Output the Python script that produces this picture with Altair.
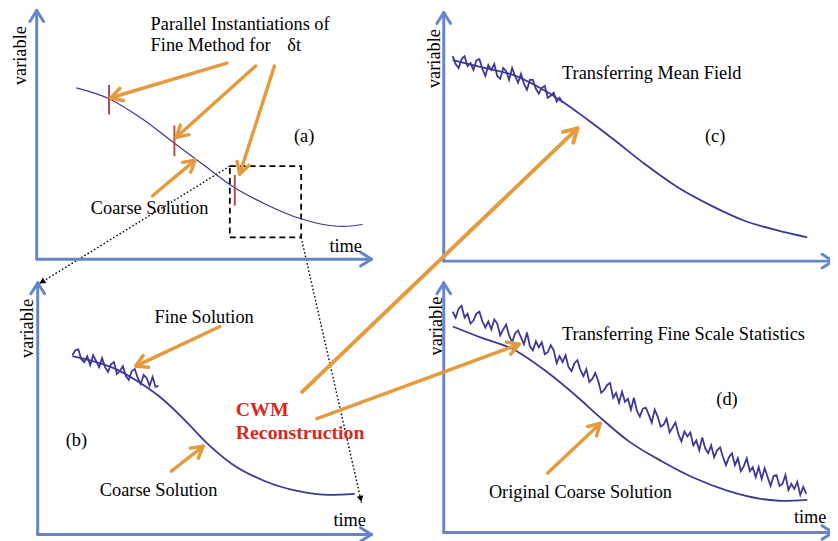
import math
import altair as alt
import pandas as pd

# ---------------- data (diagram coordinates) ----------------
FONT = "Liberation Serif"
AXIS_C = "#6684C9"
CURVE_C = "#3B3896"
ORANGE = "#E49A3D"
TICK_C = "#B4504C"
RED = "#D8291C"

# smooth coarse curves
a_curve_x = [77, 110, 143, 176, 207, 237, 267, 303, 333, 347, 366]
a_curve_y = [86, 97, 117, 142, 165, 187, 203, 218, 225, 226, 224]
b_curve_x = [73, 90, 117, 140, 160, 185, 207, 233, 267, 300, 333, 358]
b_curve_y = [357, 361, 370, 383, 397, 420, 443, 465, 483, 493, 497, 496]
c_curve_x = [457, 490, 518, 545, 568, 593, 618, 651, 685, 718, 751, 785, 815]
c_curve_y = [58, 66, 73, 86, 100, 118, 137, 163, 187, 205, 220, 230, 237]
d_curve_x = [457, 485, 518, 551, 585, 605, 635, 668, 701, 735, 768, 791, 815]
d_curve_y = [327, 338, 350, 372, 400, 418, 443, 463, 480, 493, 501, 503, 502]

# fine (noisy) solutions
b_noise_x = [73, 76, 79, 82, 85, 88, 91, 94, 97, 100, 103, 106, 109, 112, 115,
             118, 121, 124, 127, 130, 133, 136, 139, 142, 145, 148, 151, 154, 157, 160]
b_noise_y = [356, 351, 350, 360, 363, 357, 366, 356, 362, 368, 359, 368, 373, 365, 363,
             375, 372, 367, 377, 381, 372, 370, 379, 385, 376, 379, 387, 378, 388, 387]
c_noise_x = [457, 460, 463, 466, 469, 472, 475, 478, 481, 484, 487, 490, 493, 496, 499,
             502, 505, 508, 511, 514, 517, 520, 523, 526, 529, 532, 535, 538, 541, 544,
             547, 550, 553, 556, 559, 562, 565, 568]
c_noise_y = [54, 62, 66, 57, 54, 64, 61, 68, 58, 57, 67, 74, 63, 68, 62,
             74, 77, 66, 69, 78, 66, 74, 81, 72, 82, 88, 78, 78, 87, 92,
             86, 84, 96, 94, 91, 100, 96, 101]
d_noise_x = [457, 460, 463, 466, 469, 472, 475, 478, 481, 484, 487, 490, 493, 496, 499,
             502, 505, 508, 511, 514, 517, 520, 523, 526, 529, 532, 535, 538, 541, 544,
             547, 550, 553, 556, 559, 562, 565, 568, 571, 574, 577, 580, 583, 586, 589,
             592, 595, 598, 601, 604, 607, 610, 613, 616, 619, 622, 625, 628, 631, 634,
             637, 640, 643, 646, 649, 652, 655, 658, 661, 664, 667, 670, 673, 676, 679,
             682, 685, 688, 691, 694, 697, 700, 703, 706, 709, 712, 715, 718, 721, 724,
             727, 730, 733, 736, 739, 742, 745, 748, 751, 754, 757, 760, 763, 766, 769,
             772, 775, 778, 781, 784, 787, 790, 793, 796, 799, 802, 805, 808, 811, 814]
d_noise_y = [312, 318, 309, 306, 318, 314, 324, 321, 314, 312, 322, 328, 322, 330, 320,
             324, 336, 330, 325, 336, 343, 334, 331, 338, 345, 333, 347, 351, 342, 348,
             343, 355, 353, 346, 351, 364, 357, 363, 356, 368, 372, 364, 361, 371, 377,
             370, 383, 380, 374, 382, 394, 391, 386, 384, 399, 394, 404, 393, 403, 400,
             411, 399, 412, 418, 410, 409, 416, 424, 411, 418, 428, 426, 420, 434, 429,
             424, 436, 443, 433, 438, 434, 447, 442, 452, 439, 450, 455, 447, 459, 452,
             449, 459, 467, 459, 455, 467, 460, 473, 468, 460, 473, 469, 479, 469, 481,
             470, 479, 488, 478, 477, 488, 486, 477, 492, 486, 491, 484, 497, 489, 496]

# red marks on the coarse curve of panel (a)
tick_x = [110, 176, 237]
tick_y1 = [83, 124, 174]
tick_y2 = [113, 155, 205]

# dashed zoom box
box_x = [232, 304]
box_y = [165, 237]

# axes: origin x, origin y, top of y-arrow, end of x-arrow
axis_x0 = [37, 38, 448, 448]
axis_y0 = [259, 537, 261, 535]
axis_top = [8, 283, 10, 283]
axis_right = [375, 375, 841, 841]

# orange arrows (start -> tip)
arrow_x1 = [229, 258, 277, 154, 222, 173, 320, 553]
arrow_y1 = [61, 64, 64, 195, 327, 473, 420, 475]
arrow_x2 = [112, 178, 242, 197, 137, 205, 524, 606]
arrow_y2 = [96, 136, 173, 159, 367, 448, 345, 425]
big_arrow = [305, 393, 583, 127]

# dotted arrows (start -> tip)
dot_x1 = [232, 304]
dot_y1 = [165, 237]
dot_x2 = [39, 365]
dot_y2 = [284, 505]

# texts
c_text = ["Coarse Solution", "(a)", "time", "Transferring Mean Field", "(c)",
          "Fine Solution", "(b)", "Coarse Solution", "time",
          "Transferring Fine Scale Statistics", "(d)", "Original Coarse Solution", "time"]
c_text_x = [151, 307, 349, 658, 722, 206, 77, 160, 353, 690, 734, 586, 818]
c_text_y = [213, 141, 252, 77, 141, 323, 448, 498, 528, 341, 406, 500, 525]
l_text = ["Parallel Instantiations of", "Fine Method for", "δt"]
l_text_x = [152, 152, 290]
l_text_y = [28, 49, 49]
v_text_x = [26.5, 33, 444, 446]
v_text_y = [53.5, 329, 56.5, 326.5]
red_text = ["CWM", "Reconstruction"]
red_text_x = [238, 238]
red_text_y = [417, 441]

# ---------------- build tables ----------------
def arrow_rows(x1, y1, x2, y2, kind, L, ang):
    rows = [dict(x=x1, y=y1, x2=x2, y2=y2, kind=kind)]
    dx, dy = x2 - x1, y2 - y1
    n = math.hypot(dx, dy)
    ux, uy = dx / n, dy / n
    for s in (1, -1):
        a = math.radians(ang) * s
        rx = ux * math.cos(a) - uy * math.sin(a)
        ry = ux * math.sin(a) + uy * math.cos(a)
        rows.append(dict(x=x2, y=y2, x2=x2 - L * rx, y2=y2 - L * ry, kind=kind))
    return rows

seg = []
for i in range(4):
    seg += arrow_rows(axis_x0[i], axis_y0[i], axis_x0[i], axis_top[i], "axis", 13, 32)
    seg += arrow_rows(axis_x0[i], axis_y0[i], axis_right[i], axis_y0[i], "axis", 13, 32)
for i in range(len(arrow_x1)):
    seg += arrow_rows(arrow_x1[i], arrow_y1[i], arrow_x2[i], arrow_y2[i], "orange", 13, 30)
seg += arrow_rows(*big_arrow, "orange_big", 15, 30)
for i in range(3):
    seg.append(dict(x=tick_x[i], y=tick_y1[i], x2=tick_x[i], y2=tick_y2[i], kind="tick"))
for i in range(2):
    seg.append(dict(x=dot_x1[i], y=dot_y1[i], x2=dot_x2[i], y2=dot_y2[i], kind="dot"))
seg_df = pd.DataFrame(seg)

heads = []
for i in range(2):
    dx, dy = dot_x2[i] - dot_x1[i], dot_y2[i] - dot_y1[i]
    n = math.hypot(dx, dy)
    ux, uy = dx / n, dy / n
    ang = math.degrees(math.atan2(ux, -uy)) % 360
    heads.append(dict(x=dot_x2[i] - 4 * ux, y=dot_y2[i] - 4 * uy, angle=ang))
head_df = pd.DataFrame(heads)

def curve_df(xs_, ys_, name):
    return pd.DataFrame({"x": xs_, "y": ys_, "c": name, "o": list(range(len(xs_)))})

thin_curve = curve_df(a_curve_x, a_curve_y, "a")
curves = pd.concat([curve_df(b_curve_x, b_curve_y, "b"),
                    curve_df(c_curve_x, c_curve_y, "c"),
                    curve_df(d_curve_x, d_curve_y, "d")])
noise = pd.concat([curve_df(b_noise_x, b_noise_y, "b"),
                   curve_df(c_noise_x, c_noise_y, "c"),
                   curve_df(d_noise_x, d_noise_y, "d")])

box_df = pd.DataFrame({"x": [box_x[0]], "x2": [box_x[1]], "y": [box_y[0]], "y2": [box_y[1]]})
ctext_df = pd.DataFrame({"x": c_text_x, "y": c_text_y, "t": c_text})
ltext_df = pd.DataFrame({"x": l_text_x, "y": l_text_y, "t": l_text})
vtext_df = pd.DataFrame({"x": v_text_x, "y": v_text_y, "t": ["variable"] * 4})
rtext_df = pd.DataFrame({"x": red_text_x, "y": red_text_y, "t": red_text})

# ---------------- chart ----------------
W, H = 830, 533
xs = alt.Scale(domain=[8, 838], nice=False, zero=False)
ys = alt.Scale(domain=[8, 541], nice=False, zero=False, reverse=True)
X = alt.X("x:Q", scale=xs, axis=None)
Y = alt.Y("y:Q", scale=ys, axis=None)

def rules(kind, **kw):
    return alt.Chart(seg_df).transform_filter(alt.datum.kind == kind).mark_rule(**kw).encode(
        x=X, y=Y, x2="x2:Q", y2="y2:Q")

layers = [
    alt.Chart(box_df).mark_rect(fill=None, stroke="black", strokeWidth=1.8,
                                strokeDash=[6, 4]).encode(x=X, y=Y, x2="x2:Q", y2="y2:Q"),
    rules("dot", color="black", strokeWidth=1.4, strokeDash=[1.6, 2.2]),
    alt.Chart(head_df).mark_point(shape="triangle-up", filled=True, color="black",
                                  size=45, opacity=1).encode(
        x=X, y=Y, angle=alt.Angle("angle:Q", scale=None)),
    rules("axis", color=AXIS_C, strokeWidth=3, strokeCap="round"),
    alt.Chart(thin_curve).mark_line(interpolate="monotone", color=CURVE_C, strokeWidth=1.2).encode(
        x=X, y=Y, detail="c:N", order="o:Q"),
    alt.Chart(curves).mark_line(interpolate="monotone", color=CURVE_C, strokeWidth=1.8).encode(
        x=X, y=Y, detail="c:N", order="o:Q"),
    alt.Chart(noise).mark_line(color=CURVE_C, strokeWidth=1.8).encode(
        x=X, y=Y, detail="c:N", order="o:Q"),
    rules("tick", color=TICK_C, strokeWidth=2),
    rules("orange", color=ORANGE, strokeWidth=3.5, strokeCap="round"),
    rules("orange_big", color=ORANGE, strokeWidth=4, strokeCap="round"),
    alt.Chart(ctext_df).mark_text(font=FONT, fontSize=18.5, align="center",
                                  baseline="alphabetic", color="black").encode(x=X, y=Y, text="t:N"),
    alt.Chart(ltext_df).mark_text(font=FONT, fontSize=18.5, align="left",
                                  baseline="alphabetic", color="black").encode(x=X, y=Y, text="t:N"),
    alt.Chart(vtext_df).mark_text(font=FONT, fontSize=18.5, align="center", angle=270,
                                  baseline="alphabetic", color="black").encode(x=X, y=Y, text="t:N"),
    alt.Chart(rtext_df).mark_text(font=FONT, fontSize=20, fontWeight="bold", align="left",
                                  baseline="alphabetic", color=RED).encode(x=X, y=Y, text="t:N"),
]

chart = alt.layer(*layers).properties(
    width=W, height=H, padding=0, autosize="none", background="white"
).configure_view(stroke=None)

chart.save("out.html", embed_options={"renderer": "svg", "actions": False})
